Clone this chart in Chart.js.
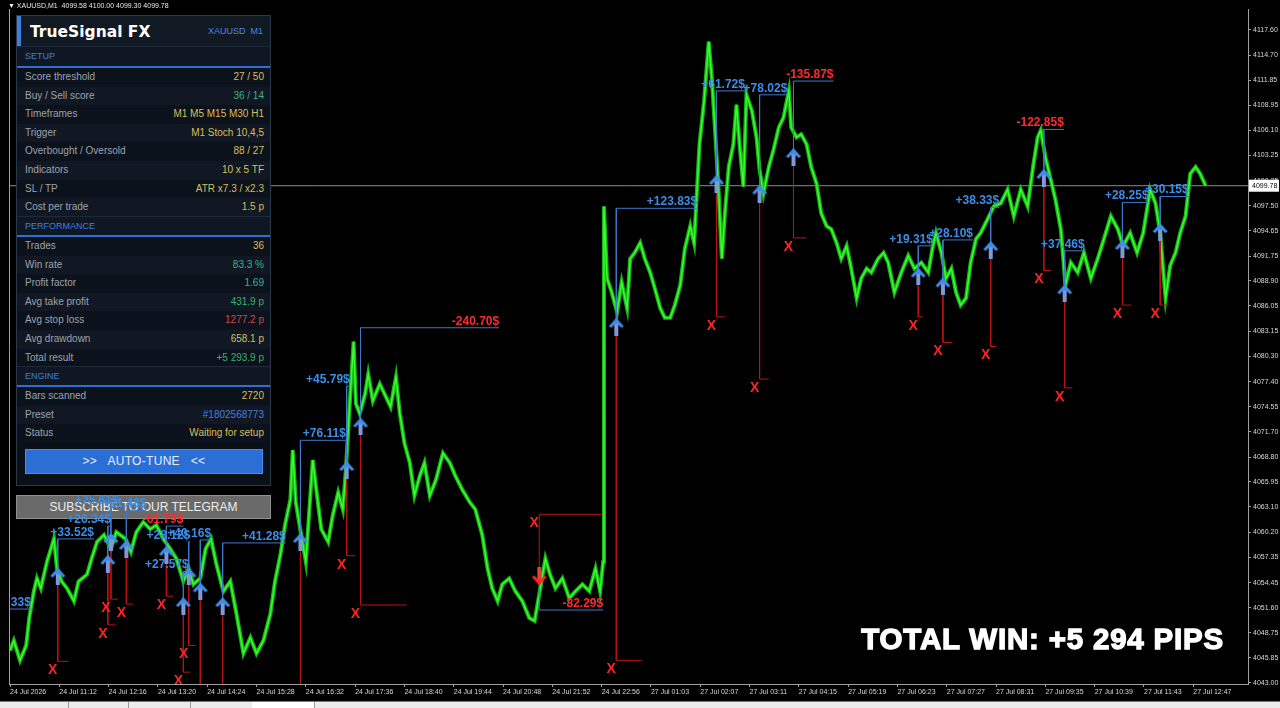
<!DOCTYPE html>
<html>
<head>
<meta charset="utf-8">
<script src="https://cdn.jsdelivr.net/npm/chart.js@4.4.1/dist/chart.umd.min.js"></script>
<style>
  html, body { margin: 0; padding: 0; background: #000; width: 1280px; height: 708px; overflow: hidden; font-family: "Liberation Sans", Arial, sans-serif; }
  #wrap { position: relative; width: 1280px; height: 708px; }
  #c { position: absolute; left: 0; top: 0; z-index: 2; }
  .head { position: absolute; left: 8px; top: 0; font-size: 7px; color: #e8e8e8; line-height: 11px; z-index: 4; }
  .sub { position: absolute; left: 16px; top: 495px; width: 253px; height: 22px; background: #6a6a6a; border: 1px solid #909090; color: #ececec; font-size: 12px; text-align: center; line-height: 23px; z-index: 1; }
  .panel { position: absolute; left: 16px; top: 15px; width: 255px; height: 471px; box-sizing: border-box; background: #0a1018; border: 1px solid #2c394b; z-index: 3; }
  .panel div { position: absolute; }
  .ttl { left: 0; top: 0; width: 253px; height: 30px; background: #111923; }
  .acc { left: 0; top: 0; width: 4px; height: 30px; background: #3d7fe0; }
  .name { left: 13px; top: 0; line-height: 33px; font-family: "DejaVu Sans", sans-serif; font-size: 15.5px; font-weight: bold; color: #fff; }
  .sym { right: 7px; top: 0; line-height: 31px; font-size: 9px; color: #4a86e8; }
  .sec { left: 0; width: 253px; height: 19px; background: #0f1724; color: #3f7fd8; font-size: 9px; line-height: 19px; text-indent: 8px; border-top: 1px solid #1e2a3a; }
  .bl { left: 0; width: 253px; height: 2px; background: #2f6fd0; }
  .row { left: 0; width: 253px; height: 18.6px; line-height: 18.6px; font-size: 10px; }
  .row.a { background: #0c121b; }
  .row.b { background: #111823; }
  .row span { position: absolute; }
  .lab { left: 8px; color: #9aa3ae; }
  .val { right: 6px; }
  .gold { color: #d6bf5e; }
  .teal { color: #3fae8f; }
  .grn { color: #3fae6f; }
  .red { color: #c9495a; }
  .blu { color: #4a7fd8; }
  .btn { left: 8px; top: 433px; width: 236px; height: 23px; background: #2b6fd6; border: 1px solid #4a8af0; color: #e8eefc; font-size: 12px; text-align: center; line-height: 23px; letter-spacing: 0.3px; }
  .total { position: absolute; right: 56px; top: 624px; font-family: "Liberation Sans", Arial, sans-serif; font-weight: bold; font-size: 29.5px; line-height: 29.5px; letter-spacing: 0.8px; color: #fff; -webkit-text-stroke: 1.3px #fff; z-index: 4; white-space: nowrap; }
  .tabs { position: absolute; left: 0; top: 701px; width: 1280px; height: 7px; background: #ececec; border-top: 1px solid #7a7a7a; z-index: 4; }
  .tabs i { position: absolute; top: 0; height: 7px; border-right: 1px solid #9a9a9a; }
</style>
</head>
<body>
<div id="wrap">
  <canvas id="c" width="1280" height="708"></canvas>
  <div class="head">&#9660; XAUUSD,M1&nbsp; 4099.58 4100.00 4099.30 4099.78</div>
  <div class="sub">SUBSCRIBE TO OUR TELEGRAM</div>
  <div class="panel">
    <div class="ttl"></div><div class="acc"></div>
    <div class="name">TrueSignal FX</div>
    <div class="sym">XAUUSD&nbsp; M1</div>
    <div class="sec" style="top:30px">SETUP</div>
    <div class="bl" style="top:50px"></div>
    <div class="row a" style="top:52px"><span class="lab">Score threshold</span><span class="val gold">27 / 50</span></div>
    <div class="row b" style="top:70.6px"><span class="lab">Buy / Sell score</span><span class="val teal">36 / 14</span></div>
    <div class="row a" style="top:89.2px"><span class="lab">Timeframes</span><span class="val gold">M1 M5 M15 M30 H1</span></div>
    <div class="row b" style="top:107.8px"><span class="lab">Trigger</span><span class="val gold">M1 Stoch 10,4,5</span></div>
    <div class="row a" style="top:126.4px"><span class="lab">Overbought / Oversold</span><span class="val gold">88 / 27</span></div>
    <div class="row b" style="top:145px"><span class="lab">Indicators</span><span class="val gold">10 x 5 TF</span></div>
    <div class="row a" style="top:163.6px"><span class="lab">SL / TP</span><span class="val gold">ATR x7.3 / x2.3</span></div>
    <div class="row b" style="top:182.2px"><span class="lab">Cost per trade</span><span class="val gold">1.5 p</span></div>
    <div class="sec" style="top:200px">PERFORMANCE</div>
    <div class="bl" style="top:219px"></div>
    <div class="row a" style="top:221px"><span class="lab">Trades</span><span class="val gold">36</span></div>
    <div class="row b" style="top:239.6px"><span class="lab">Win rate</span><span class="val teal">83.3 %</span></div>
    <div class="row a" style="top:258.2px"><span class="lab">Profit factor</span><span class="val teal">1.69</span></div>
    <div class="row b" style="top:276.8px"><span class="lab">Avg take profit</span><span class="val grn">431.9 p</span></div>
    <div class="row a" style="top:295.4px"><span class="lab">Avg stop loss</span><span class="val red">1277.2 p</span></div>
    <div class="row b" style="top:314px"><span class="lab">Avg drawdown</span><span class="val gold">658.1 p</span></div>
    <div class="row a" style="top:332.6px"><span class="lab">Total result</span><span class="val grn">+5 293.9 p</span></div>
    <div class="sec" style="top:350px">ENGINE</div>
    <div class="bl" style="top:369px"></div>
    <div class="row a" style="top:371px"><span class="lab">Bars scanned</span><span class="val gold">2720</span></div>
    <div class="row b" style="top:389.6px"><span class="lab">Preset</span><span class="val blu">#1802568773</span></div>
    <div class="row a" style="top:408.2px"><span class="lab">Status</span><span class="val gold">Waiting for setup</span></div>
    <div class="btn">&gt;&gt;&nbsp;&nbsp; AUTO-TUNE &nbsp;&nbsp;&lt;&lt;</div>
  </div>
  <div class="total">TOTAL WIN: +5 294 PIPS</div>
  <div class="tabs"><i style="left:0;width:68px"></i><i style="left:68px;width:60px"></i><i style="left:128px;width:62px"></i><i style="left:190px;width:62px"></i><i style="left:252px;width:62px;background:#fff"></i></div>
</div>
<script>
// x axis: bar index (M1), labelled every 64 bars
const xTickBars = [0, 64, 128, 192, 256, 320, 384, 448, 512, 576, 640, 704, 768, 832, 896, 960, 1024, 1088, 1152, 1216, 1280, 1344, 1408, 1472, 1536];
const xTickLabels = ['24 Jul 2026', '24 Jul 11:12', '24 Jul 12:16', '24 Jul 13:20', '24 Jul 14:24', '24 Jul 15:28', '24 Jul 16:32', '24 Jul 17:36', '24 Jul 18:40', '24 Jul 19:44', '24 Jul 20:48', '24 Jul 21:52', '24 Jul 22:56',
  '27 Jul 01:03', '27 Jul 02:07', '27 Jul 03:11', '27 Jul 04:15', '27 Jul 05:19', '27 Jul 06:23', '27 Jul 07:27', '27 Jul 08:31', '27 Jul 09:35', '27 Jul 10:39', '27 Jul 11:43', '27 Jul 12:47'];
const yTickLabels = ['4117.60', '4114.70', '4111.85', '4108.95', '4106.10', '4103.25', '4100.35', '4097.50', '4094.65', '4091.75', '4088.90', '4086.05', '4083.15', '4080.30',
  '4077.40', '4074.55', '4071.70', '4068.80', '4065.95', '4063.10', '4060.20', '4057.35', '4054.45', '4051.60', '4048.75', '4045.85', '4043.00'];

// XAUUSD M1 price path (bar, price)
const priceBars = [0, 5, 13, 21, 25, 31, 35, 40, 48, 57, 61, 67, 74, 83, 89, 100, 106, 113, 122, 131, 138, 150, 157, 164, 173, 182, 190, 199, 208, 216,
  225, 232, 238, 247, 254, 261, 268, 277, 286, 294, 303, 312, 320, 329, 338, 344, 351, 357, 364, 367, 371, 378, 384, 393, 397, 404, 413, 419, 426, 432,
  436, 441, 446, 449, 454, 461, 465, 471, 480, 488, 494, 501, 506, 512, 519, 525, 532, 538, 545, 553, 562, 571, 578, 587, 597, 604, 613, 620, 626, 633,
  639, 648, 656, 665, 674, 681, 687, 695, 701, 708, 717, 726, 734, 743, 752, 760, 766, 770, 771, 775, 781, 788, 794, 801, 805, 811, 818, 824, 831, 837,
  844, 850, 857, 863, 870, 876, 883, 888, 892, 895, 901, 905, 907, 911, 915, 920, 924, 928, 933, 939, 943, 947, 952, 956, 963, 969, 973, 978, 985, 991,
  998, 1004, 1011, 1014, 1021, 1027, 1034, 1040, 1047, 1053, 1060, 1066, 1073, 1079, 1086, 1092, 1099, 1105, 1112, 1118, 1127, 1134, 1140, 1148, 1157, 1166, 1174, 1183, 1192, 1198,
  1202, 1209, 1215, 1222, 1228, 1234, 1241, 1247, 1254, 1260, 1269, 1277, 1286, 1295, 1303, 1312, 1321, 1328, 1334, 1338, 1344, 1351, 1357, 1364, 1370, 1377, 1386, 1394, 1403, 1412,
  1420, 1429, 1438, 1445, 1454, 1463, 1471, 1480, 1487, 1493, 1500, 1506, 1513, 1519, 1526, 1532, 1539, 1545, 1552];
const priceValues = [4046.71, 4047.84, 4045.58, 4047.27, 4050.43, 4053.47, 4054.94, 4053.81, 4056.85, 4059.45, 4056.06, 4054.60, 4053.81, 4052.35, 4054.60, 4055.39, 4057.19, 4059.11, 4059.90, 4058.32,
  4060.23, 4059.45, 4057.98, 4060.23, 4061.36, 4060.57, 4061.02, 4059.45, 4058.32, 4057.19, 4054.60, 4056.06, 4054.26, 4054.94, 4058.32, 4059.45, 4056.52, 4053.47, 4054.60, 4050.88,
  4046.37, 4048.18, 4046.37, 4047.84, 4050.88, 4054.60, 4057.64, 4061.02, 4063.95, 4069.59, 4063.61, 4059.90, 4056.85, 4068.46, 4065.53, 4060.57, 4059.11, 4062.15, 4064.74, 4062.83,
  4067.33, 4074.88, 4081.98, 4074.88, 4073.76, 4076.01, 4078.26, 4075.22, 4077.14, 4075.67, 4074.55, 4077.93, 4073.76, 4070.38, 4068.12, 4064.40, 4066.66, 4068.12, 4064.40, 4066.21,
  4069.25, 4068.12, 4066.66, 4065.08, 4063.61, 4062.83, 4059.90, 4056.06, 4053.81, 4052.35, 4054.26, 4054.94, 4053.47, 4052.35, 4050.43, 4050.09, 4053.13, 4057.19, 4055.39, 4053.81,
  4054.94, 4052.68, 4053.47, 4054.26, 4053.47, 4056.06, 4053.47, 4056.85, 4097.42, 4089.20, 4087.62, 4085.36, 4088.74, 4085.82, 4091.45, 4092.13, 4093.25, 4091.45, 4089.87, 4088.07,
  4085.82, 4084.69, 4084.69, 4086.15, 4088.41, 4092.58, 4095.17, 4093.25, 4099.68, 4104.52, 4109.48, 4113.99, 4116.24, 4112.07, 4106.44, 4098.89, 4091.45, 4096.63, 4101.93, 4104.52,
  4109.03, 4104.52, 4099.68, 4110.16, 4108.35, 4105.31, 4101.59, 4098.89, 4101.93, 4103.85, 4106.44, 4107.56, 4110.61, 4106.44, 4105.31, 4105.65, 4104.52, 4101.93, 4100.01, 4096.63,
  4095.17, 4094.83, 4093.25, 4091.45, 4092.91, 4090.32, 4086.94, 4089.20, 4090.32, 4089.87, 4091.45, 4092.13, 4091.00, 4087.62, 4089.87, 4091.79, 4090.32, 4091.00, 4089.87, 4092.91,
  4094.38, 4092.13, 4089.20, 4090.32, 4087.62, 4086.15, 4086.94, 4091.00, 4093.70, 4094.38, 4095.96, 4097.42, 4097.76, 4099.34, 4096.30, 4099.34, 4097.42, 4101.93, 4105.31, 4106.10,
  4103.06, 4100.46, 4098.21, 4094.83, 4088.41, 4091.00, 4089.87, 4092.13, 4089.20, 4091.45, 4093.70, 4096.30, 4094.83, 4092.91, 4094.38, 4092.13, 4094.38, 4099.34, 4097.76, 4094.38,
  4086.94, 4090.66, 4092.13, 4094.38, 4096.30, 4101.14, 4101.93, 4101.14, 4099.78];
const lastPrice = 4099.78;

// signals
const tradeSide = ['buy', 'buy', 'buy', 'buy', 'buy', 'buy', 'buy', 'buy', 'buy', 'buy', 'buy', 'buy', 'buy', 'sell', 'buy', 'buy', 'buy', 'buy', 'buy', 'buy', 'buy', 'buy', 'buy', 'buy', 'buy'];
const tradeEntryBar = [-21, 62, 127, 131, 151, 203, 232, 225, 247, 276, 377, 437, 455, 687, 787, 917, 973, 1017, 1179, 1211, 1273, 1342, 1369, 1444, 1493];
const tradeEntryPrice = [4047.84, 4055.16, 4056.63, 4059.11, 4058.32, 4057.64, 4055.16, 4051.78, 4053.47, 4051.78, 4059.11, 4067.33, 4072.29, 4055.16, 4083.67, 4100.01, 4098.89, 4103.06, 4089.42, 4088.29, 4092.46, 4100.69, 4087.51, 4092.58, 4094.49];
const tradeTpPrice = [4051.44, 4059.45, 4060.91, 4063.05, 4062.71, 4060.91, 4059.11, 4055.73, 4059.33, 4058.99, 4070.71, 4076.91, 4083.56, 4051.33, 4097.20, 4110.61, 4110.16, 4111.73, 4092.91, 4093.59, 4097.31, 4106.21, 4092.35, 4097.87, 4098.55];
const tradeExitBar = [27, 109, 131, 141, 177, 225, 234, 232, 261, 358, 436, 441, 635, 770, 892, 954, 1009, 1069, 1198, 1250, 1284, 1368, 1395, 1478, 1530];
const tradeSlPrice = [4038.80, 4045.47, 4049.64, 4052.57, 4052.01, 4052.91, 4047.27, 4044.23, 4038.80, 4038.80, 4038.80, 4057.53, 4051.90, 4062.26, 4045.58, 4084.80, 4077.70, 4093.82, 4084.80, 4081.87, 4081.42, 4090.10, 4076.69, 4086.15, 4086.15];
const tradeSlEndBar = [-10, 76, 137, 140, 160, 212, 241, 234, 257, 286, 387, 448, 515, 769, 820, 928, 985, 1034, 1185, 1223, 1280, 1351, 1379, 1456, 1504];
const tradeResult = ['+21.33$', '+33.52$', '+26.34$', '+25.61$', '+21.48$', '-61.79$', '+28.12$', '+27.57$', '+40.16$', '+41.28$', '+76.11$', '+45.79$', '-240.70$', '-82.29$',
  '+123.83$', '+61.72$', '+78.02$', '-135.87$', '+19.31$', '+28.10$', '+38.33$', '-122.85$', '+37.46$', '+28.25$', '+30.15$'];

function arrowImg(head, shaft, down) {
  const c = document.createElement('canvas');
  c.width = 16; c.height = 18;
  const g = c.getContext('2d');
  if (down) { g.translate(0, 18); g.scale(1, -1); }
  g.fillStyle = shaft;
  g.fillRect(6, 6, 4, 12);
  g.fillStyle = head;
  g.beginPath();
  g.moveTo(8, 0); g.lineTo(15.5, 8.5); g.lineTo(13, 10); g.lineTo(9.6, 6.5); g.lineTo(6.4, 6.5); g.lineTo(3, 10); g.lineTo(0.5, 8.5);
  g.closePath(); g.fill();
  return c;
}
const upArrow = arrowImg('#3f8de8', '#7f98dc', false);
const downArrow = arrowImg('#ff2222', '#e04040', true);

const pricePts = priceBars.map((b, i) => ({ x: b, y: priceValues[i] }));
const tpPath = [], slPath = [];
tradeEntryBar.forEach((b, i) => {
  tpPath.push({ x: tradeExitBar[i], y: tradeTpPrice[i] }, { x: b, y: tradeTpPrice[i] }, { x: b, y: tradeEntryPrice[i] }, { x: b, y: null });
  slPath.push({ x: b, y: tradeEntryPrice[i] }, { x: b, y: tradeSlPrice[i] }, { x: tradeSlEndBar[i], y: tradeSlPrice[i] }, { x: b, y: null });
});
const buys = [], sells = [];
tradeEntryBar.forEach((b, i) => (tradeSide[i] === 'buy' ? buys : sells).push({ x: b, y: tradeEntryPrice[i] }));

const overlay = {
  id: 'overlay',
  afterDatasetsDraw(chart) {
    const { ctx, chartArea: a, scales: { x, y } } = chart;
    ctx.save();
    ctx.beginPath();
    ctx.rect(a.left, a.top, a.right - a.left, a.bottom - a.top);
    ctx.clip();
    ctx.font = 'bold 12px "Liberation Sans", Arial';
    ctx.textAlign = 'right';
    ctx.textBaseline = 'alphabetic';
    tradeResult.forEach((r, i) => {
      ctx.fillStyle = r[0] === '-' ? '#ff2b2b' : '#3b8ee8';
      ctx.fillText(r, x.getPixelForValue(tradeExitBar[i]), y.getPixelForValue(tradeTpPrice[i]) - 3);
    });
    ctx.font = 'bold 14px "Liberation Sans", Arial';
    ctx.textAlign = 'center';
    ctx.textBaseline = 'middle';
    ctx.fillStyle = '#ff2424';
    tradeSlPrice.forEach((p, i) => {
      ctx.fillText('X', x.getPixelForValue(tradeEntryBar[i]) - 5, y.getPixelForValue(p) + 9);
    });
    ctx.restore();
  },
  afterDraw(chart) {
    const { ctx, chartArea: a, scales: { y } } = chart;
    ctx.save();
    ctx.strokeStyle = '#a0a0a0';
    ctx.lineWidth = 1;
    ctx.beginPath();
    ctx.moveTo(a.left + 0.5, a.top);
    ctx.lineTo(a.left + 0.5, a.bottom);
    ctx.stroke();
    const py = y.getPixelForValue(lastPrice);
    ctx.fillStyle = '#fff';
    ctx.fillRect(a.right + 1, py - 6, 30, 12);
    ctx.fillStyle = '#000';
    ctx.font = '7px "Liberation Sans", Arial';
    ctx.textAlign = 'left';
    ctx.textBaseline = 'middle';
    ctx.fillText(lastPrice.toFixed(2), a.right + 4, py);
    ctx.restore();
  }
};

new Chart(document.getElementById('c'), {
  type: 'line',
  data: {
    datasets: [
      { data: buys, showLine: false, pointStyle: upArrow, pointRadius: 8 },
      { data: sells, showLine: false, pointStyle: downArrow, pointRadius: 8 },
      { data: tpPath, borderColor: '#3f78c8', borderWidth: 1, pointRadius: 0, spanGaps: false },
      { data: slPath, borderColor: '#b81414', borderWidth: 1, pointRadius: 0, spanGaps: false },
      { data: pricePts, borderColor: '#3cff2e', borderWidth: 1.4, pointRadius: 0, tension: 0 },
      { data: pricePts, borderColor: '#16b816', borderWidth: 4, pointRadius: 0, tension: 0, borderJoinStyle: 'miter' },
      { data: [{ x: -2, y: lastPrice }, { x: 1610, y: lastPrice }], borderColor: '#8c8c8c', borderWidth: 1, pointRadius: 0 }
    ]
  },
  options: {
    responsive: false,
    animation: false,
    layout: { padding: { left: 5, top: 0, right: 0, bottom: 0 } },
    plugins: { legend: { display: false }, tooltip: { enabled: false } },
    scales: {
      x: {
        type: 'linear',
        min: -1.3,
        max: 1607,
        afterFit: s => { s.height = 24; },
        afterBuildTicks: s => { s.ticks = xTickBars.map(v => ({ value: v })); },
        grid: { display: true, drawOnChartArea: false, drawTicks: true, tickLength: 3, color: '#a0a0a0' },
        border: { display: true, color: '#a0a0a0' },
        ticks: {
          autoSkip: false, maxRotation: 0, align: 'start', padding: 1,
          color: '#d8d8d8', font: { family: '"Liberation Sans", Arial', size: 7 },
          callback: (v, i) => xTickLabels[i]
        }
      },
      y: {
        position: 'right',
        min: 4042.88,
        max: 4119.96,
        afterFit: s => { s.width = 32; },
        afterBuildTicks: s => { s.ticks = yTickLabels.map(t => ({ value: parseFloat(t) })); },
        grid: { display: true, drawOnChartArea: false, drawTicks: true, tickLength: 3, color: '#a0a0a0' },
        border: { display: true, color: '#a0a0a0' },
        ticks: {
          padding: 2, color: '#d8d8d8', font: { family: '"Liberation Sans", Arial', size: 7 },
          callback: (v, i) => yTickLabels[i]
        }
      }
    }
  },
  plugins: [overlay]
});
</script>
</body>
</html>
